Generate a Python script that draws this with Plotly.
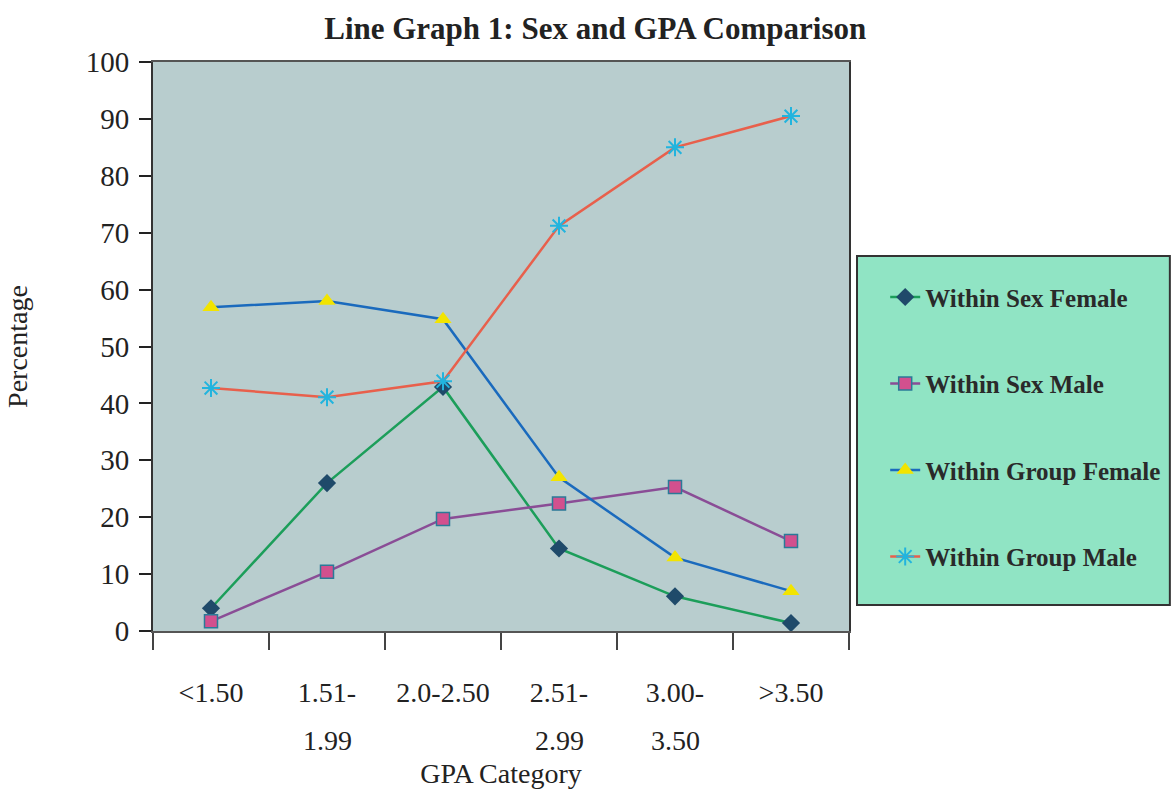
import plotly.graph_objects as go

categories = ["<1.50", "1.51-1.99", "2.0-2.50", "2.51-2.99", "3.00-3.50", ">3.50"]
tick_line1 = ["<1.50", "1.51-", "2.0-2.50", "2.51-", "3.00-", ">3.50"]
tick_line2 = ["", "1.99", "", "2.99", "3.50", ""]

within_sex_female = [4.0, 26.0, 42.9, 14.5, 6.1, 1.4]
within_sex_male = [1.7, 10.4, 19.7, 22.4, 25.3, 15.8]
within_group_female = [56.9, 58.0, 54.8, 27.0, 12.9, 7.0]
within_group_male = [42.7, 41.1, 43.9, 71.2, 85.0, 90.5]

serif = "Liberation Serif, Times New Roman, serif"

fig = go.Figure()

fig.add_trace(go.Scatter(
    x=categories, y=within_sex_female, name="Within Sex Female",
    mode="lines+markers", legendgroup="a",
    line=dict(color="#1c9e5a", width=2.5),
    marker=dict(symbol="diamond", size=14, color="#1f4a6a", line=dict(width=0)),
))
fig.add_trace(go.Scatter(
    x=categories, y=within_sex_male, name="Within Sex Male",
    mode="lines+markers", legendgroup="b",
    line=dict(color="#8a4d96", width=2.5),
    marker=dict(symbol="square", size=13, color="#d2508e", line=dict(width=1.5, color="#2a7a98")),
))
fig.add_trace(go.Scatter(
    x=categories, y=within_group_female, name="Within Group Female",
    mode="lines+markers", legendgroup="c",
    line=dict(color="#1a6abd", width=2.5),
    marker=dict(symbol="triangle-up", size=15, color="#f2e400", line=dict(width=0)),
))
fig.add_trace(go.Scatter(
    x=categories, y=within_group_male, name="Within Group Male",
    mode="lines+markers", legendgroup="d",
    line=dict(color="#e8604c", width=2.5),
    marker=dict(symbol="asterisk-open", size=15, color="#22b4de", line=dict(width=2, color="#22b4de")),
))

annotations = []
for cat, txt in zip(categories, tick_line2):
    if txt:
        annotations.append(dict(
            x=cat, y=-0.193, xref="x", yref="paper", text=txt, showarrow=False,
            xanchor="center", yanchor="middle",
            font=dict(family=serif, size=28, color="#222222"),
        ))

fig.update_layout(
    width=1174, height=793,
    margin=dict(l=153, r=325, t=62, b=162, autoexpand=False),
    paper_bgcolor="white",
    plot_bgcolor="#b8cdce",
    font=dict(family=serif, color="#222222"),
    title=dict(
        text="<b>Line Graph 1: Sex and GPA Comparison</b>",
        x=0.507, xref="container", xanchor="center",
        y=0.965, yref="container", yanchor="middle",
        font=dict(family=serif, size=31, color="#222222"),
    ),
    xaxis=dict(
        type="category", categoryorder="array", categoryarray=categories,
        range=[-0.5, 5.5], automargin=False,
        tickmode="array", tickvals=categories, ticktext=tick_line1,
        tickson="boundaries", ticks="outside", ticklen=17, tickwidth=1.5, tickcolor="#444",
        ticklabelstandoff=35,
        tickfont=dict(family=serif, size=28, color="#222222"),
        showline=True, linecolor="#555555", linewidth=2, mirror=True,
        showgrid=False, zeroline=False,
        title=dict(text="GPA Category", font=dict(family=serif, size=28, color="#222222"), standoff=57),
    ),
    yaxis=dict(
        range=[0, 100], dtick=10, automargin=False,
        ticks="outside", ticklen=12, tickwidth=1.5, tickcolor="#222",
        ticklabelstandoff=4,
        tickfont=dict(family=serif, size=29, color="#222222"),
        showline=True, linecolor="#333333", linewidth=2, mirror=True,
        showgrid=False, zeroline=False,
        title=dict(text="Percentage", font=dict(family=serif, size=28, color="#222222"), standoff=50),
    ),
    legend=dict(
        x=1.052, xanchor="left", y=0.627, yanchor="top",
        bgcolor="rgba(0,0,0,0)", borderwidth=0,
        font=dict(family=serif, size=25, color="#2a2a2a", weight="bold"),
        tracegroupgap=51,
    ),
    shapes=[dict(
        type="rect", xref="paper", yref="paper",
        x0=1.0115, x1=1.461, y0=0.0457, y1=0.659,
        fillcolor="#90e4c4", line=dict(color="#333333", width=2), layer="below",
    )],
    annotations=annotations,
    showlegend=True,
)

fig.write_html("out.html")
